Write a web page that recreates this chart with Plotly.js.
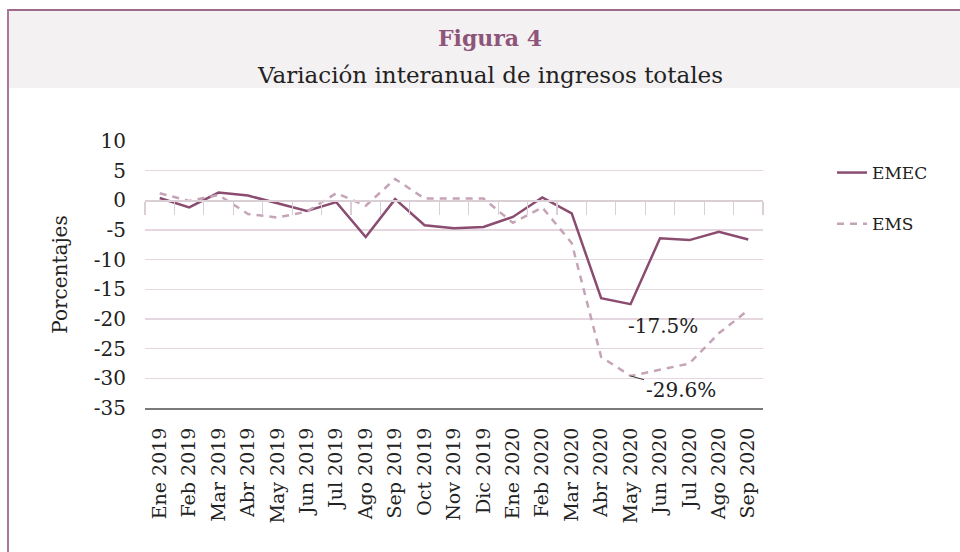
<!DOCTYPE html>
<html><head><meta charset="utf-8">
<script src="https://cdn.plot.ly/plotly-3.0.1.min.js"></script>
<style>
body{margin:0;background:#fff;}
#band{position:absolute;left:8px;top:9px;width:952px;height:77px;background:#f4f1f3;border-top:2px solid #9d6b8c;}
#leftb{position:absolute;left:7px;top:9px;width:2px;height:543px;background:#a7789a;}
#chart{position:absolute;left:0;top:0;width:960px;height:552px;}
</style></head>
<body>
<div id="band"></div><div id="leftb"></div>
<div id="chart"></div>
<script>
const months = ["Ene 2019","Feb 2019","Mar 2019","Abr 2019","May 2019","Jun 2019","Jul 2019","Ago 2019","Sep 2019","Oct 2019","Nov 2019","Dic 2019","Ene 2020","Feb 2020","Mar 2020","Abr 2020","May 2020","Jun 2020","Jul 2020","Ago 2020","Sep 2020"];
const emec = [0.4,-1.2,1.3,0.8,-0.5,-1.8,-0.3,-6.2,0.2,-4.2,-4.7,-4.5,-2.8,0.5,-2.2,-16.5,-17.5,-6.4,-6.7,-5.3,-6.6];
const ems = [1.2,-0.1,0.9,-2.3,-2.9,-1.9,1.2,-0.9,3.6,0.3,0.3,0.3,-3.8,-1.2,-7.2,-26.4,-29.6,-28.6,-27.5,-22.4,-18.5];
const yTicks = [10,5,0,-5,-10,-15,-20,-25,-30,-35];
const seriesNames = ["EMEC","EMS"];
const titleText = "Figura 4";
const subtitleText = "Variación interanual de ingresos totales";
const yTitle = "Porcentajes";

const FONT = "DejaVu Serif, Liberation Serif, serif";
const traces = [
  {x: months, y: emec, name: seriesNames[0], type: "scatter", mode: "lines",
   line: {color: "#8a4c70", width: 2.5}, legendgroup: "a", hoverinfo: "skip"},
  {x: months, y: ems, name: seriesNames[1], type: "scatter", mode: "lines",
   line: {color: "#c6a4b8", width: 2.5, dash: "7px,6px"}, legendgroup: "b", hoverinfo: "skip"},
  {x: months, y: emec, xaxis: "x2", type: "scatter", mode: "lines",
   line: {color: "rgba(0,0,0,0)", width: 0}, showlegend: false, hoverinfo: "skip"}
];
const iMay = months.indexOf("May 2020");
const layout = {
  width: 960, height: 552,
  paper_bgcolor: "rgba(0,0,0,0)", plot_bgcolor: "rgba(0,0,0,0)",
  margin: {l: 145, r: 197, t: 141, b: 144},
  font: {family: FONT, color: "#222", size: 18},
  title: {text: "<b>" + titleText + "</b>", x: 490/960, xanchor: "center", xref: "container",
          y: 1 - 38/552, yanchor: "middle", yref: "container",
          font: {family: FONT, size: 22, color: "#8e5479"}},
  xaxis: {type: "category", categoryorder: "array", categoryarray: months, range: [-0.5, months.length - 0.5],
          showline: true, linecolor: "#7a7a7a", linewidth: 2, showgrid: false, zeroline: false,
          ticks: "outside", ticklen: 10, tickcolor: "rgba(0,0,0,0)", tickangle: -90,
          tickfont: {family: FONT, size: 19, color: "#222"}, fixedrange: true},
  xaxis2: {type: "category", categoryorder: "array", categoryarray: months, range: [-0.5, months.length - 0.5],
           overlaying: "x", anchor: "free", position: 35/45, side: "bottom",
           showline: true, linecolor: "#d9cfd5", linewidth: 1.2, showgrid: false, zeroline: false,
           ticks: "outside", ticklen: 13, tickcolor: "#d9cfd5", tickwidth: 1.2, tickson: "boundaries",
           showticklabels: false, fixedrange: true},
  yaxis: {range: [-35, 10], tickvals: yTicks, ticktext: yTicks.map(String), showgrid: true,
          gridcolor: "#e6d6df", gridwidth: 1.2, zeroline: false, showline: false,
          ticks: "outside", ticklen: 14, tickcolor: "rgba(0,0,0,0)",
          tickfont: {family: FONT, size: 20, color: "#222"},
          title: {text: yTitle, standoff: 20, font: {family: FONT, size: 20, color: "#222"}}, fixedrange: true},
  legend: {x: (832-145)/618, xanchor: "left", y: (408-155)/267, yanchor: "top",
           font: {family: FONT, size: 17, color: "#222"}, traceorder: "grouped", tracegroupgap: 26,
           bgcolor: "rgba(0,0,0,0)"},
  annotations: [
    {xref: "paper", yref: "paper", x: (490-145)/618, y: (408-75)/267, text: subtitleText, showarrow: false,
     xanchor: "center", yanchor: "middle", font: {family: FONT, size: 23, color: "#222"}},
    {x: months[iMay], y: emec[iMay], text: emec[iMay].toFixed(1) + "%", showarrow: false,
     xanchor: "left", yanchor: "middle", xshift: -5, yshift: -22, font: {family: FONT, size: 20, color: "#222"}},
    {x: months[iMay], y: ems[iMay], text: ems[iMay].toFixed(1) + "%", showarrow: true, arrowhead: 0,
     arrowwidth: 1, arrowcolor: "#333", ax: 50, ay: 14, standoff: 0,
     font: {family: FONT, size: 20, color: "#222"}}
  ],
  showlegend: true
};
Plotly.newPlot("chart", traces, layout, {displayModeBar: false, staticPlot: true});
</script>
</body></html>
